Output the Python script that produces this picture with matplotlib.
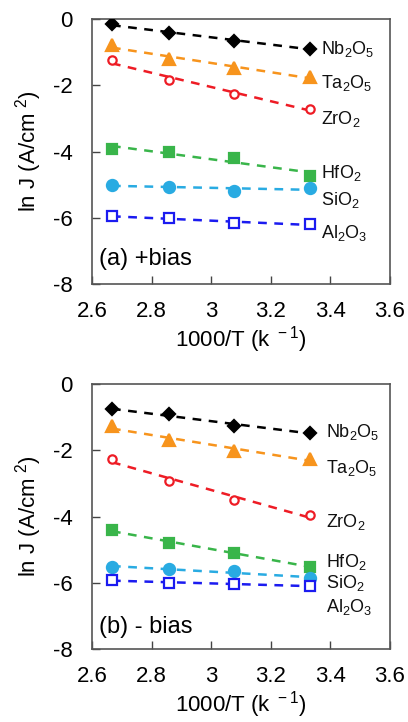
import numpy as np
import matplotlib
matplotlib.use("Agg")
import matplotlib.pyplot as plt

plt.rcParams['font.family'] = ['Liberation Sans', 'DejaVu Sans']
plt.rcParams['mathtext.fontset'] = 'custom'
plt.rcParams['mathtext.rm'] = 'Liberation Sans'
plt.rcParams['mathtext.default'] = 'regular'

# 1000/T positions (T = 375, 350, 325, 300 K)
inv_t = [2.667, 2.857, 3.077, 3.333]

oxides = ['Nb2O5', 'Ta2O5', 'ZrO2', 'HfO2', 'SiO2', 'Al2O3']
oxide_labels = [r'Nb$_2$O$_5$', r'Ta$_2$O$_5$', r'ZrO$_2$', r'HfO$_2$', r'SiO$_2$', r'Al$_2$O$_3$']

# (a) +bias, ln J
pos_nb = [-0.16, -0.41, -0.67, -0.89]
pos_ta = [-0.78, -1.22, -1.47, -1.74]
pos_zr = [-1.25, -1.84, -2.26, -2.71]
pos_hf = [-3.92, -4.01, -4.19, -4.73]
pos_si = [-5.00, -5.07, -5.20, -5.10]
pos_al = [-5.95, -6.02, -6.15, -6.20]

# (b) -bias, ln J
neg_nb = [-0.76, -0.91, -1.27, -1.47]
neg_ta = [-1.27, -1.69, -2.01, -2.26]
neg_zr = [-2.26, -2.92, -3.50, -3.95]
neg_hf = [-4.42, -4.79, -5.09, -5.52]
neg_si = [-5.53, -5.57, -5.65, -5.87]
neg_al = [-5.92, -6.00, -6.05, -6.09]

# label y positions
pos_label_y = [-0.9, -1.93, -3.02, -4.65, -5.45, -6.47]
neg_label_y = [-1.44, -2.55, -4.16, -5.37, -6.0, -6.73]

colors = ['black', '#F7941D', '#EE1C25', '#39B54A', '#29ABE2', '#1B1BF0']
markers = ['D', '^', 'o', 's', 'o', 's']
filled = [True, True, False, True, True, False]
msizes = [6, 8, 6, 6.5, 8, 6.5]

fig = plt.figure(figsize=(4.08, 7.22), dpi=100)
ax_a = fig.add_axes([0.2255, 0.6066, 0.730, 0.367])
ax_b = fig.add_axes([0.2255, 0.1011, 0.730, 0.367])


def draw_panel(ax, series, label_y, label_x, title):
    x = np.array(inv_t)
    for i, y in enumerate(series):
        c = colors[i]
        k, b = np.polyfit(x, y, 1)
        ax.plot(x, k * x + b, linestyle=(0, (3.5, 3)), color=c, lw=1.8, zorder=2)
        ax.plot(x, y, linestyle='none', marker=markers[i], ms=msizes[i],
                markerfacecolor=c if filled[i] else 'white', markeredgecolor=c,
                markeredgewidth=1.6, zorder=3)
        ax.text(label_x, label_y[i], oxide_labels[i], fontsize=13, va='center', ha='left', color='#111111')
    ax.text(2.625, title[1], title[0], fontsize=17, va='center', ha='left')
    ax.set_xlim(2.6, 3.6)
    ax.set_ylim(-8, 0)
    ax.set_xticks([2.6, 2.8, 3.0, 3.2, 3.4, 3.6])
    ax.set_xticklabels(['2.6', '2.8', '3', '3.2', '3.4', '3.6'])
    ax.set_yticks([0, -2, -4, -6, -8])
    ax.set_yticklabels(['0', '-2', '-4', '-6', '-8'])
    ax.tick_params(direction='in', length=6, width=1.0, labelsize=16, color='#444444')
    ax.tick_params(axis='x', pad=12)
    ax.tick_params(axis='y', pad=14)
    for s in ax.spines.values():
        s.set_color('#555555')
        s.set_linewidth(1.2)
    ax.set_ylabel(r'ln J (A/cm$^{\ 2}$)', fontsize=16, labelpad=6)
    ax.set_xlabel(r'1000/T (k$^{\ -1}$)', fontsize=16, labelpad=2)


draw_panel(ax_a, [pos_nb, pos_ta, pos_zr, pos_hf, pos_si, pos_al], pos_label_y, 3.37, ('(a) +bias', -7.25))
draw_panel(ax_b, [neg_nb, neg_ta, neg_zr, neg_hf, neg_si, neg_al], neg_label_y, 3.385, ('(b) - bias', -7.35))

fig.savefig('out.png', dpi=100)
